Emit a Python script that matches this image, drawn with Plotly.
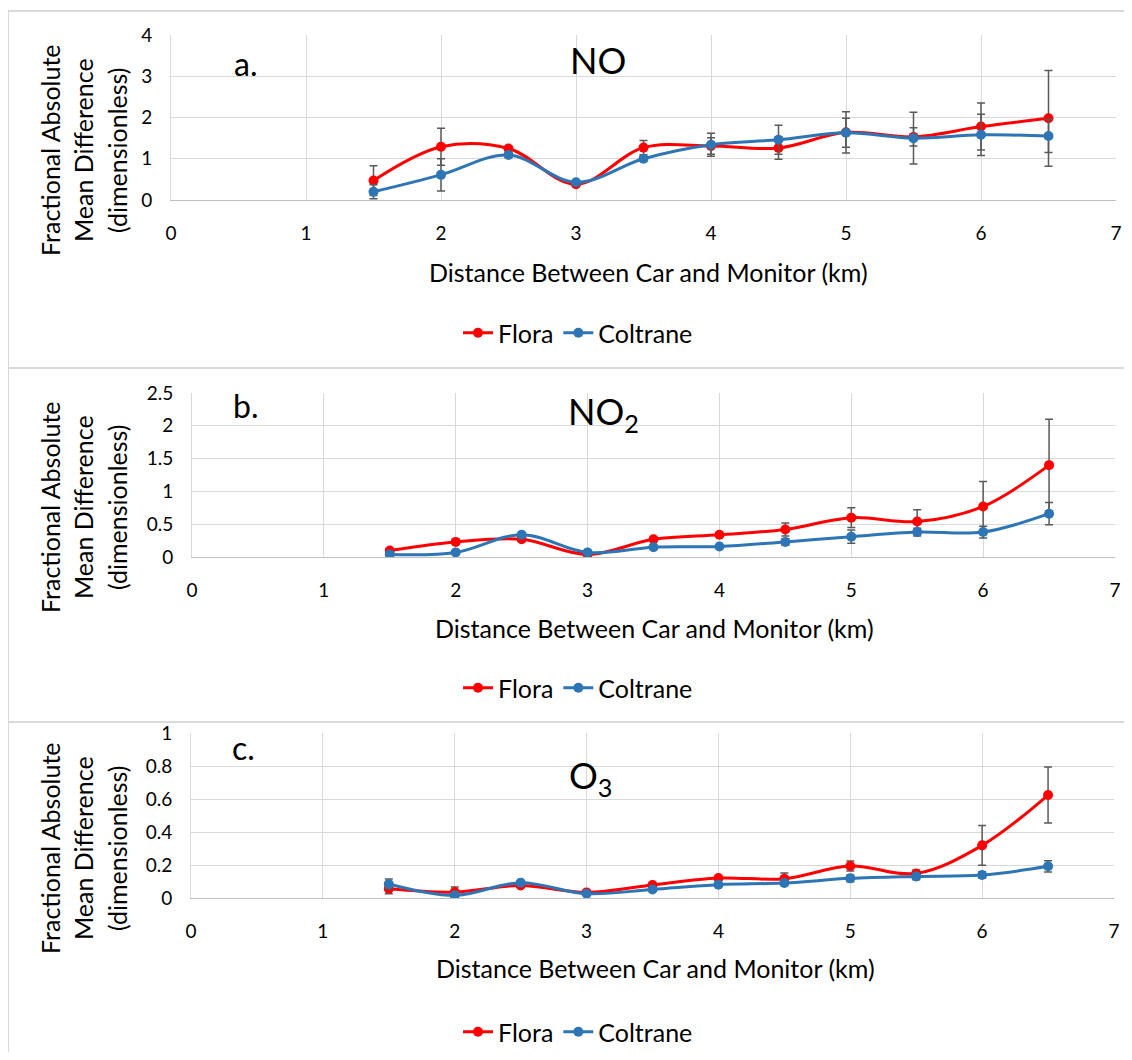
import plotly.graph_objects as go

# ---------------- data ----------------
distance = [1.5, 2, 2.5, 3, 3.5, 4, 4.5, 5, 5.5, 6, 6.5]

no_flora = [0.47, 1.29, 1.25, 0.38, 1.27, 1.31, 1.26, 1.64, 1.53, 1.78, 1.98]
no_flora_err = [0.36, 0.45, 0.05, 0.04, 0.17, 0.20, 0.27, 0.50, 0.22, 0.57, 1.16]
no_coltrane = [0.20, 0.61, 1.09, 0.43, 1.00, 1.34, 1.46, 1.63, 1.50, 1.58, 1.55]
no_coltrane_err = [0.17, 0.39, 0.06, 0.04, 0.06, 0.28, 0.35, 0.35, 0.63, 0.50, 0.40]

no2_flora = [0.10, 0.23, 0.27, 0.04, 0.27, 0.34, 0.42, 0.60, 0.54, 0.77, 1.40]
no2_flora_err = [0.03, 0.03, 0.03, 0.02, 0.03, 0.03, 0.10, 0.15, 0.18, 0.38, 0.70]
no2_coltrane = [0.04, 0.07, 0.34, 0.07, 0.15, 0.16, 0.23, 0.31, 0.38, 0.38, 0.66]
no2_coltrane_err = [0.02, 0.02, 0.03, 0.02, 0.02, 0.02, 0.05, 0.10, 0.06, 0.09, 0.17]

o3_flora = [0.056, 0.036, 0.076, 0.034, 0.079, 0.121, 0.117, 0.194, 0.149, 0.319, 0.624]
o3_flora_err = [0.03, 0.03, 0.01, 0.01, 0.01, 0.01, 0.035, 0.03, 0.02, 0.12, 0.17]
o3_coltrane = [0.085, 0.016, 0.093, 0.026, 0.052, 0.081, 0.091, 0.119, 0.131, 0.139, 0.192]
o3_coltrane_err = [0.03, 0.01, 0.01, 0.01, 0.01, 0.01, 0.01, 0.02, 0.02, 0.02, 0.034]

x_ticks = [0, 1, 2, 3, 4, 5, 6, 7]
y_ticks_a = [0, 1, 2, 3, 4]
y_ticks_b = [0, 0.5, 1, 1.5, 2, 2.5]
y_ticks_b_text = ["0", "0.5", "1", "1.5", "2", "2.5"]
y_ticks_c = [0, 0.2, 0.4, 0.6, 0.8, 1]
y_ticks_c_text = ["0", "0.2", "0.4", "0.6", "0.8", "1"]

series_names = ["Flora", "Coltrane"]
panel_letters = ["a.", "b.", "c."]
panel_titles = ["NO", "NO<sub>2</sub>", "O<sub>3</sub>"]
y_title_lines = ["Fractional Absolute", "Mean Difference", "(dimensionless)"]
x_title = "Distance Between Car and Monitor (km)"

# ---------------- layout helpers ----------------
PAGE_W, PAGE_H = 1132, 1060
OFF = 8  # default body margin of the html page
W, H = PAGE_W - 2 * OFF, PAGE_H - 2 * OFF
FONT = "Lato, 'Open Sans', sans-serif"
RED = "#FF0000"
BLUE = "#2E75B6"
ERR = "#595959"
GRID = "#D9D9D9"


def px(x):
    return (x - OFF) / W


def py(y):
    return 1 - (y - OFF) / H


panels = [
    dict(x0=171, x1=1116, y0=35, y1=200, data=(no_flora, no_flora_err, no_coltrane, no_coltrane_err),
         yr=[0, 4], tv=y_ticks_a, tt=[str(v) for v in y_ticks_a],
         letter=(245, 63), title=(598, 60), ytitle=150, xtitle=(648, 272), legend=(578, 333)),
    dict(x0=192, x1=1115, y0=393, y1=557, data=(no2_flora, no2_flora_err, no2_coltrane, no2_coltrane_err),
         yr=[0, 2.5], tv=y_ticks_b, tt=y_ticks_b_text,
         letter=(245, 405), title=(603, 414), ytitle=507, xtitle=(654, 628), legend=(578, 688)),
    dict(x0=191, x1=1114, y0=733, y1=898, data=(o3_flora, o3_flora_err, o3_coltrane, o3_coltrane_err),
         yr=[0, 1], tv=y_ticks_c, tt=y_ticks_c_text,
         letter=(243, 747), title=(590, 777), ytitle=848, xtitle=(655, 968), legend=(578, 1032)),
]
ytitle_x = [50, 83, 117]

fig = go.Figure()
annotations = []
shapes = []
layout_extra = {}


def ann(text, x, y, size, angle=0):
    return dict(text=text, x=px(x), y=py(y), xref="paper", yref="paper", showarrow=False,
                xanchor="center", yanchor="middle", textangle=angle,
                font=dict(family=FONT, size=size, color="#000000"))


for i, p in enumerate(panels):
    n = "" if i == 0 else str(i + 1)
    xa, ya = "x" + n, "y" + n
    lg = "legend" + n
    fl, fle, co, coe = p["data"]
    for name, vals, errs, col in [(series_names[0], fl, fle, RED), (series_names[1], co, coe, BLUE)]:
        fig.add_trace(go.Scatter(
            x=distance, y=vals, name=name, mode="lines+markers",
            line=dict(color=col, width=3, shape="spline", smoothing=1.0),
            marker=dict(color=col, size=10),
            error_y=dict(type="data", array=errs, visible=True, color=ERR, thickness=1.5, width=4),
            xaxis=xa, yaxis=ya, legend=lg, showlegend=True,
        ))
    layout_extra["xaxis" + n] = dict(
        domain=[px(p["x0"]), px(p["x1"])], anchor=ya, range=[0, 7],
        tickvals=x_ticks, ticktext=[str(v) for v in x_ticks],
        showgrid=True, gridcolor=GRID, gridwidth=1, zeroline=False,
        showline=True, linecolor="#BFBFBF", linewidth=1,
        ticks="outside", ticklen=16, tickcolor="rgba(0,0,0,0)", automargin=False,
        tickfont=dict(family=FONT, size=19, color="#000000"), fixedrange=True,
    )
    layout_extra["yaxis" + n] = dict(
        domain=[py(p["y1"]), py(p["y0"])], anchor=xa, range=p["yr"],
        tickvals=p["tv"], ticktext=p["tt"],
        showgrid=True, gridcolor=GRID, gridwidth=1, zeroline=False,
        showline=True, linecolor=GRID, linewidth=1,
        ticks="outside", ticklen=14, tickcolor="rgba(0,0,0,0)", automargin=False,
        tickfont=dict(family=FONT, size=19, color="#000000"), fixedrange=True,
    )
    layout_extra[lg] = dict(
        orientation="h", x=px(p["legend"][0]), y=py(p["legend"][1]),
        xanchor="center", yanchor="middle", xref="paper", yref="paper",
        font=dict(family=FONT, size=25, color="#000000"), bgcolor="rgba(0,0,0,0)",
        itemwidth=30, tracegroupgap=0,
    )
    annotations.append(ann(panel_letters[i], p["letter"][0], p["letter"][1], 32))
    annotations.append(ann(panel_titles[i], p["title"][0], p["title"][1], 36))
    for line, lx in zip(y_title_lines, ytitle_x):
        annotations.append(ann(line, lx, p["ytitle"], 25, -90))
    annotations.append(ann(x_title, p["xtitle"][0], p["xtitle"][1], 25))

# panel frames
for (t, b) in [(11, 368), (368, 722), (722, 1070)]:
    shapes.append(dict(type="rect", xref="paper", yref="paper",
                       x0=px(8), x1=px(1145), y0=py(b), y1=py(t),
                       line=dict(color="#D9D9D9", width=2), fillcolor="rgba(0,0,0,0)"))

fig.update_layout(
    width=W, height=H, autosize=False,
    margin=dict(l=0, r=0, t=0, b=0, pad=0, autoexpand=False),
    paper_bgcolor="white", plot_bgcolor="white",
    annotations=annotations, shapes=shapes,
    **layout_extra,
)

fig.write_html("out.html")
